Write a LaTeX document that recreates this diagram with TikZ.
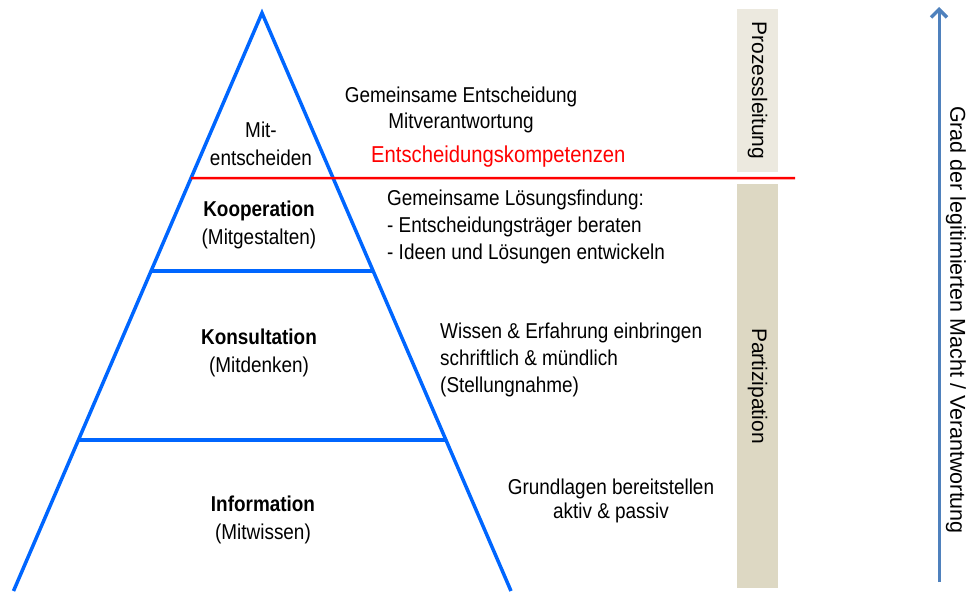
\documentclass[tikz,border=0pt]{standalone}
\usepackage{fontspec}
\setmainfont{Liberation Sans}[FakeStretch=0.88]
\newfontfamily\breitsans{Liberation Sans}
\usepackage{tikz}
\usetikzlibrary{calc, arrows.meta}
\definecolor{pyrblau}{RGB}{0,102,255}
\definecolor{machtblau}{RGB}{79,129,189}
\definecolor{leitbeige}{RGB}{236,233,223}
\definecolor{partbeige}{RGB}{221,216,195}
\tikzset{
    pyramide/.style={draw=pyrblau, line width=3.5pt},
    grenze/.style={draw=red, line width=2.5pt},
    stufe/.style={align=center, inner sep=0pt, font=\fontsize{21.5}{28}\selectfont},
    beschreibung/.style={align=left, anchor=west, inner sep=0pt, font=\fontsize{21.5}{27}\selectfont},
    balken/.style={rotate=-90, minimum height=41pt, inner sep=0pt, font=\breitsans\fontsize{21}{25}\selectfont}
}

\begin{document}
\begin{tikzpicture}[x=1pt, y=-1pt]
            \useasboundingbox (0,0) rectangle (968,591);

            % pyramide
            \coordinate (spitze) at (262,13);
            \coordinate (linksunten) at (13.5,591);
            \coordinate (rechtsunten) at (511,591);
            \draw[pyramide, line join=miter] (linksunten) -- (spitze) -- (rechtsunten);

            \coordinate (rl) at ($(spitze)!0.2855!(linksunten)$);
            \coordinate (rr) at (795,178);
            \coordinate (k1l) at ($(spitze)!0.4464!(linksunten)$);
            \coordinate (k1r) at ($(spitze)!0.4464!(rechtsunten)$);
            \coordinate (k2l) at ($(spitze)!0.7388!(linksunten)$);
            \coordinate (k2r) at ($(spitze)!0.7388!(rechtsunten)$);
            \draw[pyramide] (k1l) -- (k1r);
            \draw[pyramide] (k2l) -- (k2r);
            \draw[grenze] (rl) -- (rr);

            % stufen
            \node[stufe] (mitentscheiden) at (261,144) {Mit-\\entscheiden};
            \node[stufe] (kooperation) at (259,225) {\textbf{Kooperation}\\(Mitgestalten)};
            \node[stufe] (konsultation) at (259,353) {\textbf{Konsultation}\\(Mitdenken)};
            \node[stufe] (information) at (263,520) {\textbf{Information}\\(Mitwissen)};

            % beschreibungen
            \node[stufe, font=\fontsize{21.5}{26}\selectfont] (entscheidung) at (461,110) {Gemeinsame Entscheidung\\Mitverantwortung};
            \node[beschreibung, text=red, font=\fontsize{23}{27}\selectfont] (kompetenzen) at (371,157) {Entscheidungskompetenzen};
            \node[beschreibung] (loesung) at (387,227) {Gemeinsame Lösungsfindung:\\- Entscheidungsträger beraten\\- Ideen und Lösungen entwickeln};
            \node[beschreibung] (wissen) at (440,360) {Wissen \& Erfahrung einbringen\\schriftlich \& mündlich\\(Stellungnahme)};
            \node[stufe, font=\fontsize{21.5}{24}\selectfont] (grundlagen) at (611,501) {Grundlagen bereitstellen\\aktiv \& passiv};

            % balken rechts
            \node[balken, fill=leitbeige, minimum width=163pt] (prozess) at (757.5,90.5) {Prozessleitung};
            \node[balken, fill=partbeige, minimum width=404pt] (partizipation) at (757.5,386) {Partizipation};

            % machtpfeil
            \coordinate (machtfuss) at (939,582);
            \coordinate (machtspitze) at (939,7);
            \draw[machtblau, line width=3pt, -{Straight Barb[length=8pt, width=16pt, line width=3.5pt]}] (machtfuss) -- (machtspitze);
            \node[rotate=-90, inner sep=0pt, font=\breitsans\fontsize{21.5}{25}\selectfont] (macht) at (956,320) {Grad der legitimierten Macht / Verantwortung};
        \end{tikzpicture}
\end{document}
